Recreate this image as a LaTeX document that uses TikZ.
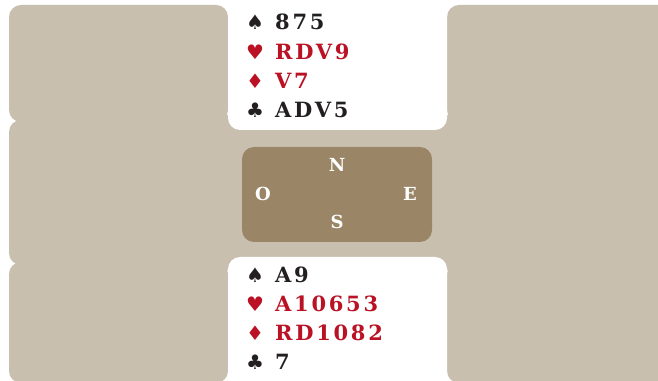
\documentclass[tikz,border=0pt]{standalone}
\usepackage{fontspec}
\newfontfamily\handfont[LetterSpace=13]{DejaVu Serif}
\newfontfamily\suitfont{DejaVu Sans}
\definecolor{felt}{RGB}{201,191,175}
\definecolor{compass}{RGB}{154,134,103}
\definecolor{cardred}{RGB}{186,18,36}
\definecolor{cardblack}{RGB}{35,31,32}

\begin{document}
\begin{tikzpicture}[x=1pt, y=1pt,
    panel/.style={fill=felt, rounded corners=12pt},
    hand/.style={fill=white, rounded corners=12pt},
    suit/.style={font=\suitfont\fontsize{20}{20}\selectfont, inner sep=0pt},
    cards/.style={font=\handfont\bfseries\fontsize{21}{21}\selectfont, anchor=west, inner sep=0pt},
    seat/.style={font=\handfont\bfseries\fontsize{18}{18}\selectfont, text=white, inner sep=0pt}]
    \useasboundingbox (0,0) rectangle (658,380);
    \clip (0,0) rectangle (658,380);
    \fill[white] (0,0) rectangle (658,380);
    % table
    \fill[panel] (9,258) rectangle (228,375);
    \fill[panel] (447,258) rectangle (670,375);
    \fill[panel] (9,115) rectangle (670,260);
    \fill[panel] (9,-3) rectangle (228,118);
    \fill[panel] (447,-3) rectangle (670,118);
    \fill[felt] (210,245) rectangle (465,265);
    \fill[felt] (210,110) rectangle (465,130);
    % north and south hands
    \fill[hand] (228,250) rectangle (447,395);
    \fill[hand] (228,123) rectangle (447,-15);
    % compass
    \fill[compass, rounded corners=12pt] (242,138) rectangle (432,233);
    \node[seat] (north) at (337,215) {N};
    \node[seat] (west) at (263,186) {O};
    \node[seat] (east) at (410,186) {E};
    \node[seat] (south) at (337,158) {S};
    % cards
    \foreach \y/\s/\c/\t [count=\i] in {358/♠/cardblack/875, 328/♥/cardred/RDV9,
        299/♦/cardred/V7, 270/♣/cardblack/ADV5} {
        \node[suit, text=\c] (ns\i) at (255,\y) {\s};
        \node[cards, text=\c] (nc\i) at (275,\y) {\t};
    }
    \foreach \y/\s/\c/\t [count=\i] in {105/♠/cardblack/A9, 76/♥/cardred/A10653,
        47/♦/cardred/RD1082, 18/♣/cardblack/7} {
        \node[suit, text=\c] (ss\i) at (255,\y) {\s};
        \node[cards, text=\c] (sc\i) at (275,\y) {\t};
    }
\end{tikzpicture}
\end{document}
